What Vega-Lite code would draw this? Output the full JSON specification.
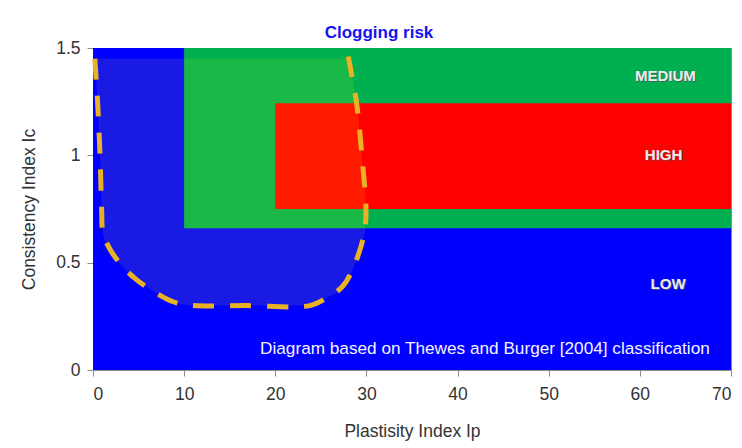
{
  "$schema": "https://vega.github.io/schema/vega-lite/v6.json",
  "width": 638,
  "height": 322,
  "autosize": {"type": "none"},
  "padding": {"left": 93, "top": 48, "right": 11, "bottom": 78},
  "background": "white",
  "title": {
    "text": "Clogging risk",
    "font": "Liberation Sans",
    "fontSize": 17,
    "fontWeight": "bold",
    "color": "#1414f0",
    "anchor": "middle",
    "dx": -33,
    "offset": -3
  },
  "config": {
    "view": {"stroke": "#8c8c8c", "strokeWidth": 1},
    "axis": {
      "labelFont": "Liberation Sans",
      "titleFont": "Liberation Sans",
      "labelFontSize": 17.5,
      "titleFontSize": 17.5,
      "titleFontWeight": "normal",
      "labelColor": "#333333",
      "titleColor": "#333333",
      "domainColor": "#8c8c8c",
      "tickColor": "#8c8c8c",
      "grid": false,
      "tickSize": 6
    }
  },
  "datasets": {
    "zones": [
      {"zone": "LOW", "x1": 0, "x2": 70, "y1": 0, "y2": 1.5},
      {"zone": "MEDIUM", "x1": 10, "x2": 70, "y1": 0.66, "y2": 1.5},
      {"zone": "HIGH", "x1": 20, "x2": 70, "y1": 0.75, "y2": 1.243}
    ],
    "region": [
      {"ic": 1.45, "xl": 0.2, "xr": 28.0},
      {"ic": 1.25, "xl": 0.5, "xr": 28.9},
      {"ic": 1.0, "xl": 0.77, "xr": 29.5},
      {"ic": 0.75, "xl": 0.95, "xr": 29.95},
      {"ic": 0.65, "xl": 1.05, "xr": 29.85},
      {"ic": 0.59, "xl": 1.4, "xr": 29.5},
      {"ic": 0.53, "xl": 2.3, "xr": 29.1},
      {"ic": 0.47, "xl": 3.5, "xr": 28.5},
      {"ic": 0.42, "xl": 4.8, "xr": 28.0},
      {"ic": 0.39, "xl": 5.8, "xr": 27.4},
      {"ic": 0.357, "xl": 7.0, "xr": 26.7},
      {"ic": 0.335, "xl": 8.0, "xr": 25.6},
      {"ic": 0.318, "xl": 8.8, "xr": 24.8},
      {"ic": 0.3, "xl": 10.6, "xr": 23.8}
    ],
    "boundary": [
      {"k": 1, "ip": 0.2, "ic": 1.45},
      {"k": 2, "ip": 0.5, "ic": 1.25},
      {"k": 3, "ip": 0.77, "ic": 1.0},
      {"k": 4, "ip": 0.95, "ic": 0.75},
      {"k": 5, "ip": 1.1, "ic": 0.64},
      {"k": 6, "ip": 1.9, "ic": 0.56},
      {"k": 7, "ip": 3.3, "ic": 0.48},
      {"k": 8, "ip": 4.8, "ic": 0.42},
      {"k": 9, "ip": 7.0, "ic": 0.357},
      {"k": 10, "ip": 8.8, "ic": 0.318},
      {"k": 11, "ip": 10.6, "ic": 0.302},
      {"k": 12, "ip": 17.0, "ic": 0.3},
      {"k": 13, "ip": 23.8, "ic": 0.3},
      {"k": 14, "ip": 25.6, "ic": 0.335},
      {"k": 15, "ip": 27.4, "ic": 0.39},
      {"k": 16, "ip": 28.5, "ic": 0.47},
      {"k": 17, "ip": 29.5, "ic": 0.59},
      {"k": 18, "ip": 29.85, "ic": 0.66},
      {"k": 19, "ip": 29.95, "ic": 0.75},
      {"k": 20, "ip": 29.5, "ic": 1.0},
      {"k": 21, "ip": 28.9, "ic": 1.25},
      {"k": 22, "ip": 28.0, "ic": 1.46}
    ],
    "labels": [
      {"label": "MEDIUM", "ip": 62.8, "ic": 1.37},
      {"label": "HIGH", "ip": 62.6, "ic": 1.0},
      {"label": "LOW", "ip": 63.1, "ic": 0.4}
    ],
    "note": [
      {"label": "Diagram based on Thewes and Burger [2004] classification", "ip": 43.0, "ic": 0.1}
    ]
  },
  "layer": [
    {
      "data": {"name": "zones"},
      "mark": {"type": "rect"},
      "encoding": {
        "x": {"field": "x1", "type": "quantitative", "scale": {"domain": [0, 70], "nice": false}, "axis": {"title": "Plastisity Index Ip", "values": [0, 10, 20, 30, 40, 50, 60, 70], "labelPadding": 9, "titlePadding": 20}},
        "x2": {"field": "x2"},
        "y": {"field": "y1", "type": "quantitative", "scale": {"domain": [0, 1.5], "nice": false}, "axis": {"title": "Consistency Index Ic", "values": [0, 0.5, 1, 1.5], "format": ".2~f", "labelPadding": 7, "titlePadding": 17}},
        "y2": {"field": "y2"},
        "color": {"field": "zone", "type": "nominal", "scale": {"domain": ["LOW", "MEDIUM", "HIGH"], "range": ["#0000ff", "#00b050", "#ff0000"]}, "legend": null}
      }
    },
    {
      "data": {"name": "region"},
      "mark": {"type": "area", "orient": "horizontal", "interpolate": "monotone", "color": "#ffff00", "opacity": 0.1},
      "encoding": {
        "y": {"field": "ic", "type": "quantitative"},
        "x": {"field": "xl", "type": "quantitative"},
        "x2": {"field": "xr"}
      }
    },
    {
      "data": {"name": "boundary"},
      "mark": {"type": "line", "interpolate": "catmull-rom", "color": "#e9b124", "strokeWidth": 5, "strokeDash": [21, 16]},
      "encoding": {
        "x": {"field": "ip", "type": "quantitative"},
        "y": {"field": "ic", "type": "quantitative"},
        "order": {"field": "k", "type": "quantitative"}
      }
    },
    {
      "data": {"name": "labels"},
      "mark": {"type": "text", "font": "Liberation Sans", "fontSize": 15, "fontWeight": "bold", "color": "#555555", "dx": 1, "dy": 1, "opacity": 0.8},
      "encoding": {
        "x": {"field": "ip", "type": "quantitative"},
        "y": {"field": "ic", "type": "quantitative"},
        "text": {"field": "label"}
      }
    },
    {
      "data": {"name": "labels"},
      "mark": {"type": "text", "font": "Liberation Sans", "fontSize": 15, "fontWeight": "bold", "color": "#eeeeee"},
      "encoding": {
        "x": {"field": "ip", "type": "quantitative"},
        "y": {"field": "ic", "type": "quantitative"},
        "text": {"field": "label"}
      }
    },
    {
      "data": {"name": "note"},
      "mark": {"type": "text", "font": "Liberation Sans", "fontSize": 17.2, "color": "#f4f4ff"},
      "encoding": {
        "x": {"field": "ip", "type": "quantitative"},
        "y": {"field": "ic", "type": "quantitative"},
        "text": {"field": "label"}
      }
    }
  ]
}
